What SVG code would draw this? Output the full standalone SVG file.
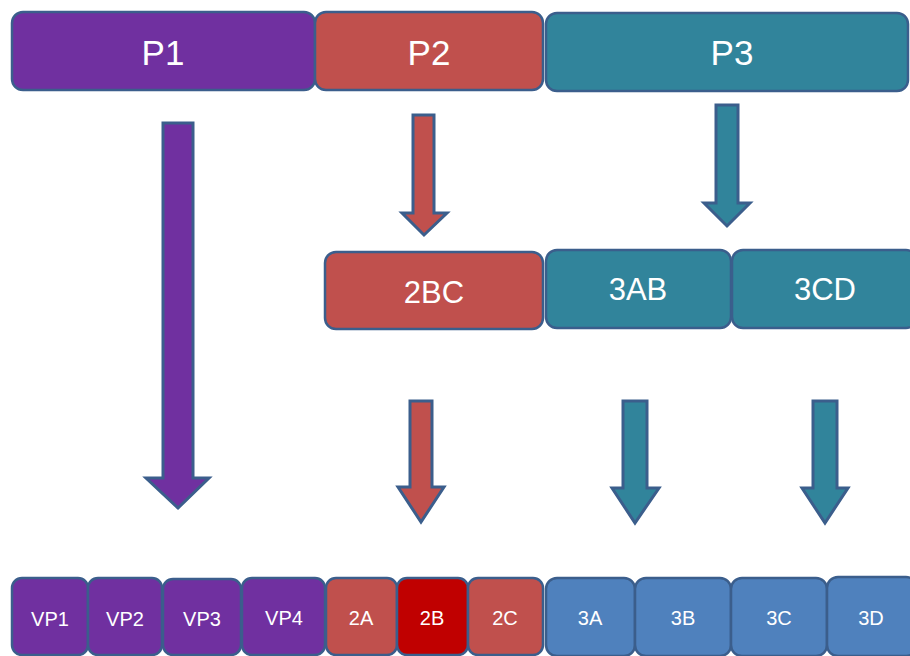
<svg xmlns="http://www.w3.org/2000/svg" width="910" height="656" viewBox="0 0 910 656">
<style>
.b{stroke:#3B5E8C;stroke-width:2.5}
.pu{fill:#7030A0}.rd{fill:#C0504D}.tl{fill:#31849B}.bl{fill:#4F81BD}.dr{fill:#C00000}
.t{fill:#fff;font-family:"Liberation Sans",Arial,sans-serif;text-anchor:middle}
.t1{font-size:35px}.t2{font-size:31px}.t3{font-size:20px}
.a{stroke:#3B5E8C;stroke-width:3;stroke-linejoin:miter}
</style>
<rect width="910" height="656" fill="#fff"/>
<g id="connectors">
<polygon class="a pu" points="163,123 193,123 193,478 209,478 178,508 146,478 163,478"/>
<polygon class="a rd" points="413,115 434,115 434,213 447,213 424,235 402,213 413,213"/>
<polygon class="a tl" points="716,105 738,105 738,203 750,203 727,226 704,203 716,203"/>
<polygon class="a rd" points="410,401 432,401 432,487 444,487 421,522 398,487 410,487"/>
<polygon class="a tl" points="623,401 647,401 647,488 659,488 635,523 612,488 623,488"/>
<polygon class="a tl" points="813,401 837,401 837,488 848,488 825,523 802,488 813,488"/>
</g>
<g id="P1"><rect class="b pu" x="12" y="12" width="303" height="78" rx="11"/><text class="t t1" x="163" y="65">P1</text></g>
<g id="P2"><rect class="b rd" x="315" y="12" width="228" height="78" rx="11"/><text class="t t1" x="429" y="65">P2</text></g>
<g id="P3"><rect class="b tl" x="546" y="13" width="362" height="78" rx="11"/><text class="t t1" x="732" y="65">P3</text></g>
<g id="n2BC"><rect class="b rd" x="325" y="252" width="218" height="77" rx="11"/><text class="t t2" x="434" y="303">2BC</text></g>
<g id="n3AB"><rect class="b tl" x="546" y="250" width="185" height="78" rx="11"/><text class="t t2" x="638" y="300">3AB</text></g>
<g id="n3CD"><rect class="b tl" x="732" y="250" width="185" height="78" rx="11"/><text class="t t2" x="825" y="300">3CD</text></g>
<g id="VP1"><rect class="b pu" x="12" y="578" width="76" height="77" rx="10"/><text class="t t3" x="50" y="626">VP1</text></g>
<g id="VP2"><rect class="b pu" x="88" y="578" width="74" height="77" rx="10"/><text class="t t3" x="125" y="626">VP2</text></g>
<g id="VP3"><rect class="b pu" x="163" y="579" width="78" height="76" rx="10"/><text class="t t3" x="202" y="626">VP3</text></g>
<g id="VP4"><rect class="b pu" x="242" y="578" width="83" height="77" rx="10"/><text class="t t3" x="284" y="625">VP4</text></g>
<g id="n2A"><rect class="b rd" x="326" y="578" width="71" height="77" rx="10"/><text class="t t3" x="361" y="625">2A</text></g>
<g id="n2B"><rect class="b dr" x="397" y="578" width="71" height="77" rx="10"/><text class="t t3" x="432" y="625">2B</text></g>
<g id="n2C"><rect class="b rd" x="468" y="578" width="75" height="77" rx="10"/><text class="t t3" x="505" y="625">2C</text></g>
<g id="n3A"><rect class="b bl" x="546" y="578" width="89" height="78" rx="11"/><text class="t t3" x="590" y="625">3A</text></g>
<g id="n3B"><rect class="b bl" x="635" y="578" width="96" height="78" rx="11"/><text class="t t3" x="683" y="625">3B</text></g>
<g id="n3C"><rect class="b bl" x="731" y="578" width="96" height="78" rx="11"/><text class="t t3" x="779" y="625">3C</text></g>
<g id="n3D"><rect class="b bl" x="827" y="577" width="90" height="79" rx="11"/><text class="t t3" x="871" y="625">3D</text></g>
</svg>
